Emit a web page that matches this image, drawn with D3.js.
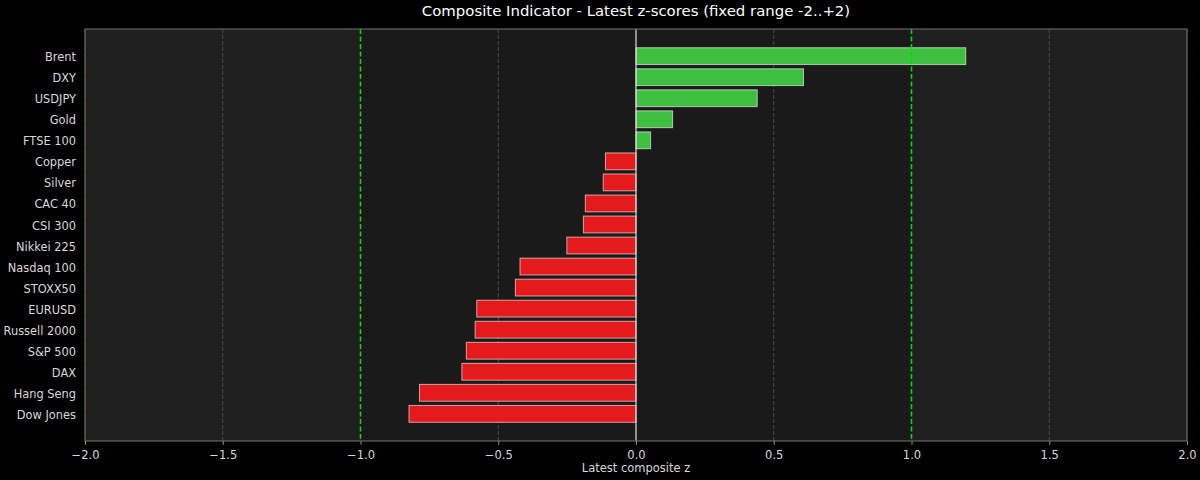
<!DOCTYPE html>
<html>
<head>
<meta charset="utf-8">
<script src="https://cdn.jsdelivr.net/npm/d3@7"></script>
<style>
  html, body { margin: 0; padding: 0; background: #000; }
  svg { display: block; }
  text { font-family: "DejaVu Sans", sans-serif; }
</style>
</head>
<body>
<svg id="chart" width="1200" height="480"></svg>
<script>
const categories = ["Brent","DXY","USDJPY","Gold","FTSE 100","Copper","Silver","CAC 40","CSI 300","Nikkei 225","Nasdaq 100","STOXX50","EURUSD","Russell 2000","S&P 500","DAX","Hang Seng","Dow Jones"];
const values = [1.197, 0.608, 0.440, 0.133, 0.053, -0.111, -0.119, -0.184, -0.191, -0.251, -0.421, -0.438, -0.578, -0.584, -0.616, -0.632, -0.786, -0.824];
const xTicks = [-2.0, -1.5, -1.0, -0.5, 0.0, 0.5, 1.0, 1.5, 2.0];
const gridTicks = [-1.5, -0.5, 0.5, 1.5];
const thresholdLines = [-1, 1];
const limitLines = [-2, 2];

const svg = d3.select("#chart");
const W = 1200, H = 480;
const m = {left: 85, right: 13, top: 29, bottom: 39};
const pw = W - m.left - m.right, ph = H - m.top - m.bottom;

svg.append("rect").attr("width", W).attr("height", H).attr("fill", "#000");

const x = d3.scaleLinear().domain([-2, 2]).range([m.left, m.left + pw]);
const n = categories.length;
const lo = -0.4, hi = n - 1 + 0.4, pad = (hi - lo) * 0.05;
const y = d3.scaleLinear().domain([lo - pad, hi + pad]).range([m.top, m.top + ph]);

const g = svg.append("g");
g.append("rect").attr("x", m.left).attr("y", m.top).attr("width", pw).attr("height", ph).attr("fill", "#1f1f1f");
g.append("rect").attr("x", x(-1)).attr("y", m.top).attr("width", x(1) - x(-1)).attr("height", ph).attr("fill", "#1a1a1a");

g.selectAll(".grid").data(gridTicks).enter().append("line")
  .attr("x1", d => x(d)).attr("x2", d => x(d))
  .attr("y1", m.top).attr("y2", m.top + ph)
  .attr("stroke", "#4a4a4a").attr("stroke-width", 1).attr("stroke-dasharray", "4,2");

g.selectAll(".bar").data(values).enter().append("rect")
  .attr("x", d => Math.min(x(0), x(d)))
  .attr("width", d => Math.abs(x(d) - x(0)))
  .attr("y", (d, i) => y(i - 0.4))
  .attr("height", (d, i) => y(i + 0.4) - y(i - 0.4))
  .attr("fill", d => d >= 0 ? "#3fbf3f" : "#e41a1c")
  .attr("stroke", "rgba(255,255,255,0.6)").attr("stroke-width", 1);

g.append("line").attr("x1", x(0)).attr("x2", x(0)).attr("y1", m.top).attr("y2", m.top + ph)
  .attr("stroke", "#e0e0e0").attr("stroke-width", 1.2);

g.selectAll(".thr").data(thresholdLines).enter().append("line")
  .attr("x1", d => x(d)).attr("x2", d => x(d))
  .attr("y1", m.top).attr("y2", m.top + ph)
  .attr("stroke", "#00dd00").attr("stroke-width", 1.5).attr("stroke-dasharray", "5,2.5");

g.selectAll(".lim").data(limitLines).enter().append("line")
  .attr("x1", d => x(d)).attr("x2", d => x(d))
  .attr("y1", m.top).attr("y2", m.top + ph)
  .attr("stroke", "#b02020").attr("stroke-width", 1).attr("stroke-dasharray", "4,2").attr("opacity", 0.8);

g.append("rect").attr("x", m.left).attr("y", m.top).attr("width", pw).attr("height", ph)
  .attr("fill", "none").attr("stroke", "#666").attr("stroke-width", 1.2);

const xAxis = d3.axisBottom(x).tickValues(xTicks).tickSize(4).tickPadding(6)
  .tickFormat(d => d3.format(".1f")(d).replace("-", "\u2212"));
const xa = svg.append("g").attr("transform", `translate(0,${m.top + ph})`).call(xAxis);
xa.select(".domain").remove();
xa.selectAll("line").attr("stroke", "#888");
xa.selectAll("text").attr("fill", "#d8d8d8").attr("font-size", "11.5px").attr("font-family", "DejaVu Sans");

const yAxis = d3.axisLeft(y).tickValues(d3.range(n)).tickSize(0).tickPadding(9)
  .tickFormat(i => categories[i]);
const ya = svg.append("g").attr("transform", `translate(${m.left},0)`).call(yAxis);
ya.select(".domain").remove();
ya.selectAll("text").attr("fill", "#d8d8d8").attr("font-size", "11.4px").attr("font-family", "DejaVu Sans").attr("dy", "0.4em");

svg.append("text").attr("x", m.left + pw / 2).attr("y", 16).attr("text-anchor", "middle")
  .attr("fill", "#ffffff").attr("font-size", "14.9px").text("Composite Indicator - Latest z-scores (fixed range -2..+2)");
svg.append("text").attr("x", m.left + pw / 2).attr("y", 472).attr("text-anchor", "middle")
  .attr("fill", "#d8d8d8").attr("font-size", "11.5px").text("Latest composite z");
</script>
</body>
</html>
